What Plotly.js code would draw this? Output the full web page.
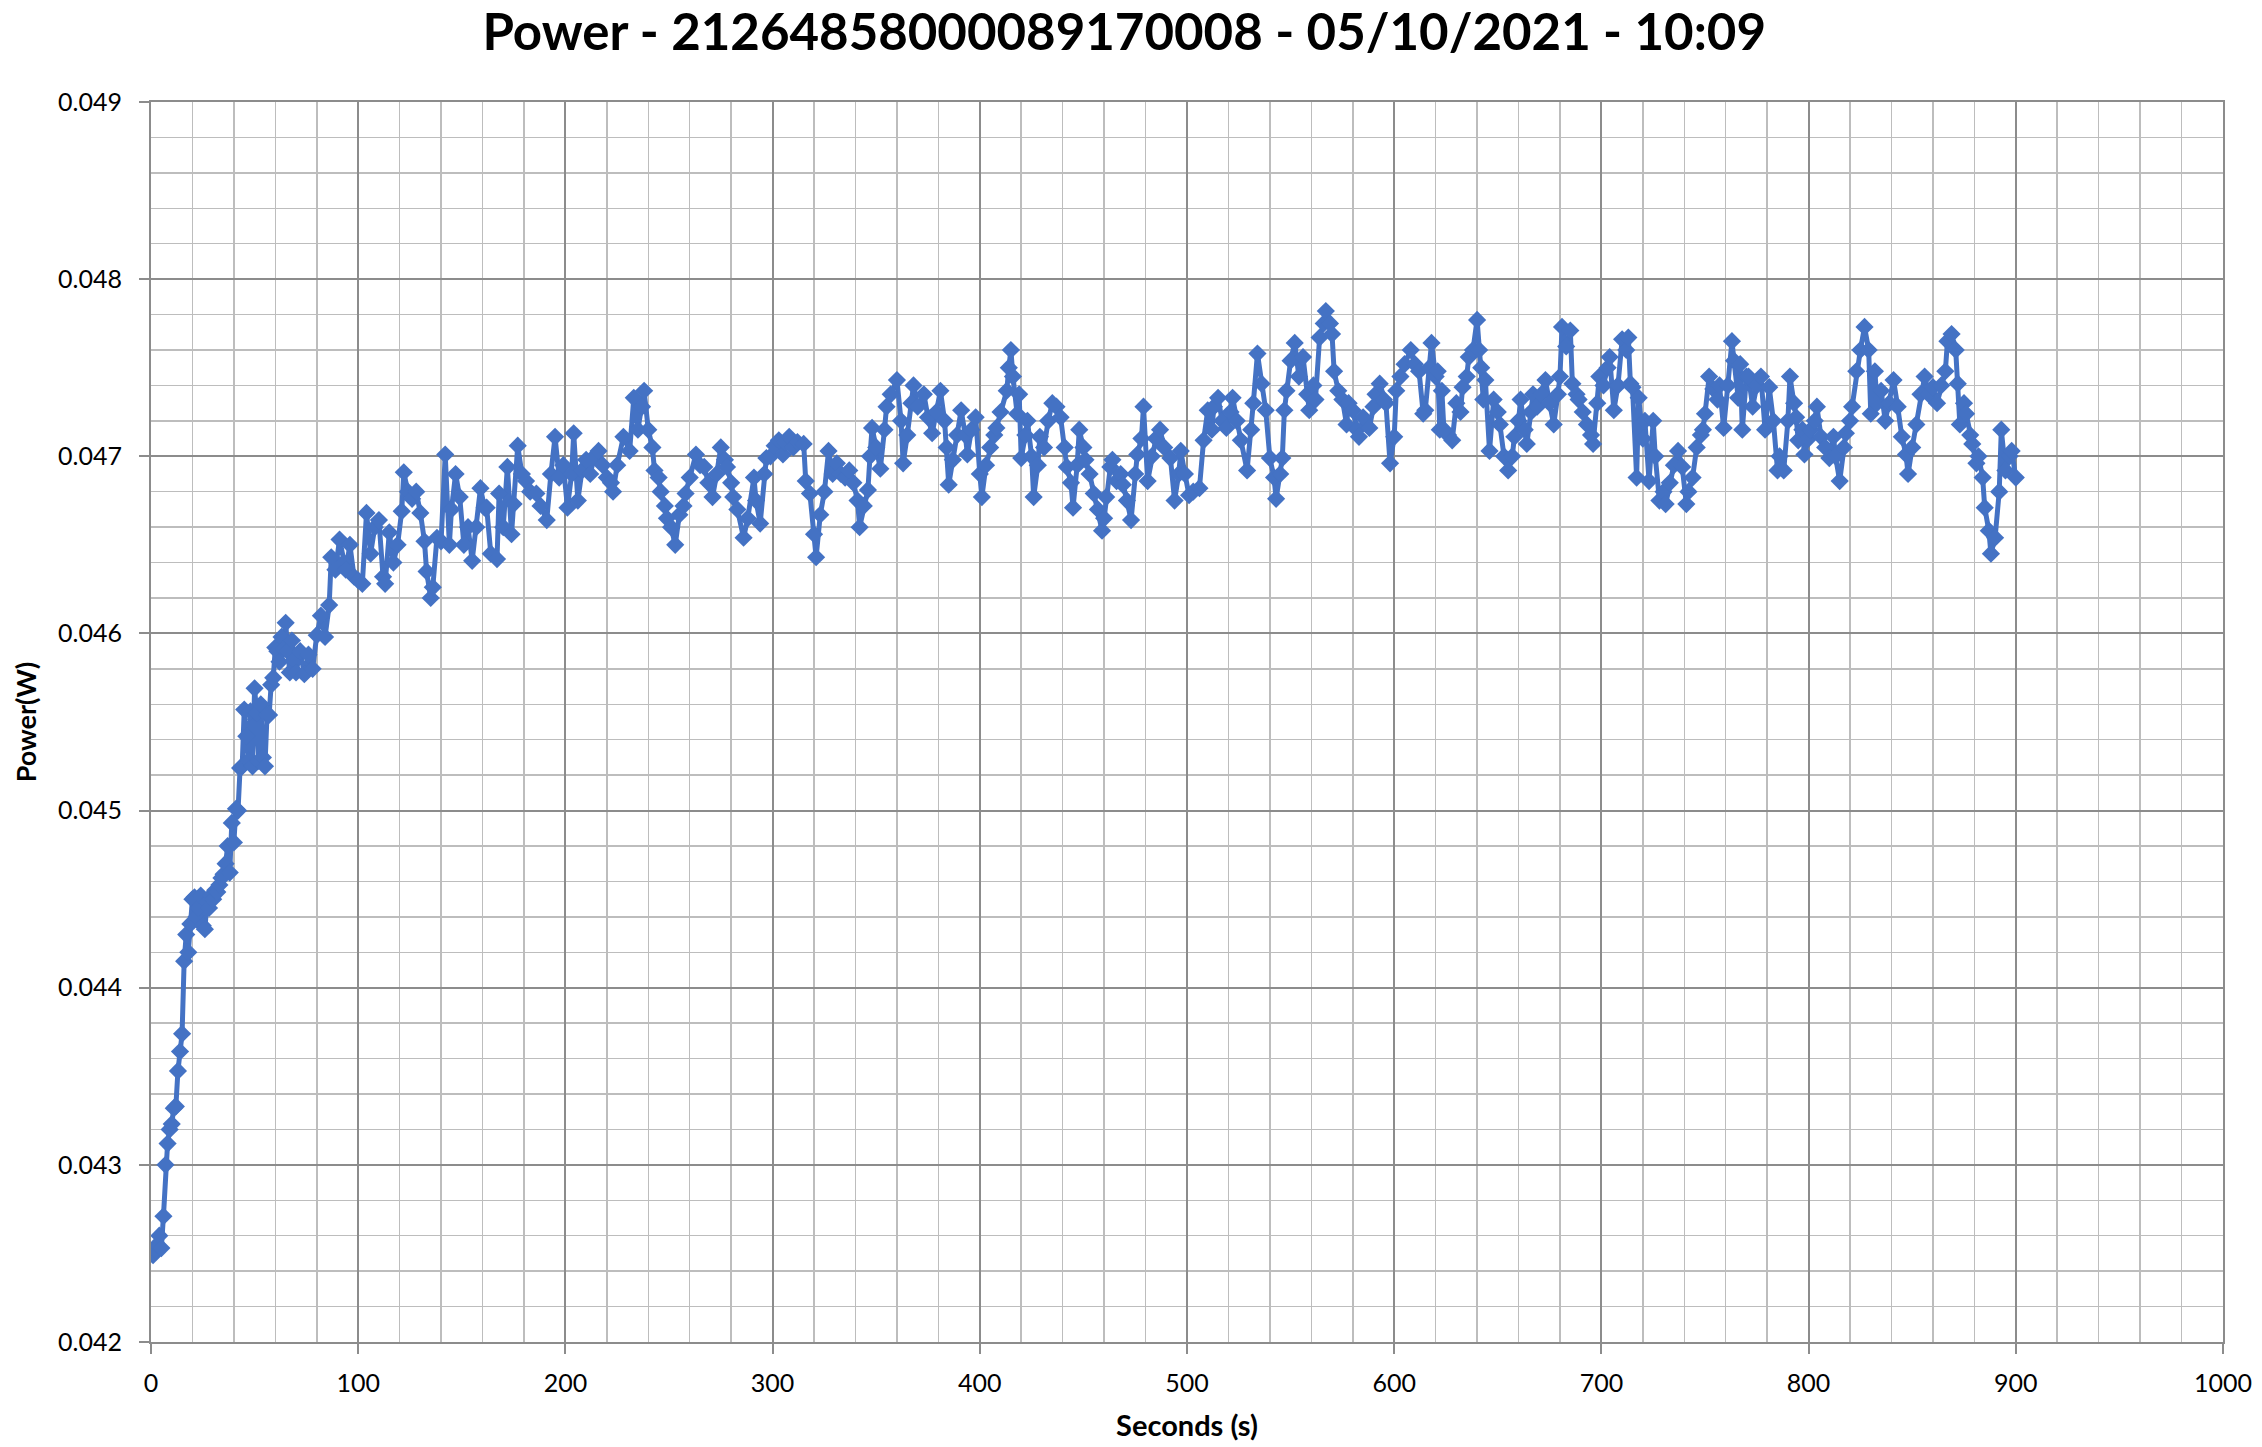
<!DOCTYPE html>
<html>
<head>
<meta charset="utf-8">
<script src="https://cdn.plot.ly/plotly-3.0.1.min.js"></script>
<style>
  html, body { margin: 0; padding: 0; background: #ffffff; }
  #chart { width: 2262px; height: 1447px; }
</style>
</head>
<body>
<div id="chart"></div>
<script>
// Seconds (s)
const seconds = [
  1,2,3,4,5,6,7,8,9,10,11,12,13,14,15,16,17,18,19,20,
  21,22,23,24,25,26,27,28,29,30,31,32,33,34,35,36,37,38,39,40,
  41,42,43,44,45,46,47,48,49,50,51,52,53,54,55,56,57,58,59,60,
  61,62,63,64,65,66,67,68,69,70,72,74,76,78,80,82,84,86,87,89,
  91,93,94,96,98,100,102,104,106,108,110,112,113,115,117,119,121,122,124,126,
  128,130,132,133,135,136,138,140,142,144,145,147,149,151,153,155,157,159,161,162,
  164,167,168,170,172,174,175,177,179,181,183,186,188,191,193,195,197,199,201,203,
  204,206,208,210,212,214,216,218,220,222,223,225,228,231,233,235,237,238,240,242,
  243,245,246,248,249,251,253,255,257,258,260,263,265,267,269,271,273,275,277,278,
  280,281,283,286,288,291,292,294,296,297,299,301,303,305,306,308,310,312,315,316,
  318,320,321,323,325,327,329,331,333,335,337,339,341,342,344,346,347,348,350,352,
  354,355,357,360,362,363,365,367,368,370,373,375,377,379,381,383,384,385,387,389,
  391,393,394,396,398,400,401,403,405,407,408,410,413,414,415,416,418,419,420,422,
  423,425,426,428,429,431,433,435,437,439,441,442,444,445,447,448,450,451,453,455,
  457,459,460,461,463,464,466,468,469,471,473,475,476,478,479,481,483,485,487,489,
  492,494,496,497,499,501,503,506,508,510,512,513,515,517,519,521,522,524,526,529,
  531,532,534,536,538,540,542,543,545,546,547,548,550,552,554,556,558,559,561,562,
  564,566,567,569,570,571,573,575,577,578,580,582,583,585,588,590,591,593,595,596,
  598,600,601,603,605,608,610,612,614,615,617,618,620,621,622,623,624,626,628,630,
  632,633,635,636,638,640,641,642,643,644,646,648,650,651,653,655,657,658,660,661,
  663,664,666,667,669,671,673,675,677,679,680,681,683,685,686,688,689,691,693,695,
  696,698,699,701,703,704,706,708,710,712,713,714,715,717,718,720,721,723,725,726,
  728,730,731,733,735,737,739,741,742,744,746,748,749,750,752,754,756,757,759,761,
  763,764,766,767,768,770,771,773,775,777,779,781,783,785,786,788,790,791,793,794,
  795,797,798,800,801,803,804,806,808,810,812,813,815,817,818,820,821,823,825,827,
  829,830,832,833,835,837,839,841,843,845,847,848,850,852,854,856,858,860,862,864,
  866,867,869,871,872,873,875,876,878,879,881,882,884,885,887,888,890,892,893,895,
  897,898,900
];

// Power (W)
const powerW = [
  0.04249,0.04252,0.04255,0.04260,0.04253,0.04271,0.04300,0.04312,0.04320,0.04323,
  0.04332,0.04333,0.04353,0.04364,0.04374,0.04415,0.04430,0.04420,0.04436,0.04450,
  0.04451,0.04440,0.04445,0.04452,0.04435,0.04433,0.04448,0.04445,0.04452,0.04450,
  0.04455,0.04454,0.04458,0.04462,0.04464,0.04470,0.04480,0.04465,0.04493,0.04482,
  0.04501,0.04500,0.04524,0.04525,0.04557,0.04542,0.04528,0.04556,0.04525,0.04569,
  0.04555,0.04528,0.04560,0.04530,0.04525,0.04554,0.04554,0.04571,0.04575,0.04592,
  0.04590,0.04584,0.04598,0.04591,0.04606,0.04590,0.04578,0.04596,0.04585,0.04578,
  0.04590,0.04577,0.04588,0.04580,0.04599,0.04610,0.04598,0.04616,0.04643,0.04636,
  0.04653,0.04640,0.04636,0.04650,0.04632,0.04630,0.04628,0.04668,0.04645,0.04660,
  0.04664,0.04632,0.04628,0.04657,0.04640,0.04650,0.04669,0.04691,0.04680,0.04676,
  0.04680,0.04668,0.04652,0.04635,0.04620,0.04626,0.04654,0.04652,0.04701,0.04650,
  0.04670,0.04690,0.04677,0.04650,0.04660,0.04641,0.04660,0.04682,0.04671,0.04671,
  0.04645,0.04642,0.04679,0.04660,0.04694,0.04656,0.04673,0.04706,0.04690,0.04686,
  0.04680,0.04679,0.04672,0.04664,0.04690,0.04711,0.04688,0.04695,0.04671,0.04690,
  0.04713,0.04675,0.04692,0.04698,0.04690,0.04700,0.04703,0.04695,0.04688,0.04685,
  0.04680,0.04695,0.04711,0.04703,0.04733,0.04715,0.04728,0.04737,0.04715,0.04705,
  0.04692,0.04688,0.04680,0.04672,0.04665,0.04660,0.04650,0.04667,0.04672,0.04679,
  0.04688,0.04701,0.04695,0.04694,0.04685,0.04677,0.04690,0.04705,0.04698,0.04694,
  0.04685,0.04677,0.04670,0.04654,0.04665,0.04688,0.04675,0.04662,0.04690,0.04699,
  0.04700,0.04706,0.04709,0.04701,0.04708,0.04711,0.04705,0.04708,0.04707,0.04686,
  0.04679,0.04656,0.04643,0.04667,0.04680,0.04703,0.04690,0.04696,0.04690,0.04688,
  0.04692,0.04685,0.04675,0.04660,0.04672,0.04681,0.04700,0.04716,0.04705,0.04693,
  0.04715,0.04728,0.04735,0.04743,0.04720,0.04696,0.04712,0.04730,0.04740,0.04728,
  0.04735,0.04722,0.04713,0.04725,0.04737,0.04720,0.04705,0.04684,0.04698,0.04712,
  0.04726,0.04712,0.04701,0.04715,0.04722,0.04690,0.04677,0.04695,0.04705,0.04712,
  0.04716,0.04725,0.04737,0.04750,0.04760,0.04745,0.04724,0.04735,0.04699,0.04712,
  0.04720,0.04700,0.04677,0.04695,0.04711,0.04705,0.04720,0.04730,0.04728,0.04722,
  0.04705,0.04694,0.04685,0.04671,0.04695,0.04715,0.04705,0.04698,0.04690,0.04679,
  0.04670,0.04658,0.04665,0.04677,0.04694,0.04698,0.04686,0.04690,0.04684,0.04675,
  0.04664,0.04690,0.04701,0.04710,0.04728,0.04686,0.04700,0.04710,0.04715,0.04705,
  0.04699,0.04675,0.04690,0.04703,0.04690,0.04678,0.04680,0.04682,0.04709,0.04726,
  0.04715,0.04728,0.04733,0.04720,0.04716,0.04725,0.04733,0.04720,0.04709,0.04692,
  0.04715,0.04730,0.04758,0.04741,0.04726,0.04699,0.04688,0.04676,0.04690,0.04699,
  0.04726,0.04737,0.04754,0.04764,0.04745,0.04756,0.04735,0.04726,0.04740,0.04732,
  0.04767,0.04775,0.04782,0.04775,0.04769,0.04748,0.04737,0.04732,0.04718,0.04730,
  0.04726,0.04715,0.04711,0.04722,0.04716,0.04728,0.04735,0.04741,0.04732,0.04730,
  0.04696,0.04711,0.04737,0.04745,0.04752,0.04760,0.04752,0.04748,0.04724,0.04726,
  0.04750,0.04764,0.04745,0.04748,0.04715,0.04737,0.04715,0.04712,0.04709,0.04730,
  0.04725,0.04739,0.04745,0.04756,0.04760,0.04777,0.04760,0.04750,0.04732,0.04743,
  0.04703,0.04732,0.04725,0.04718,0.04700,0.04692,0.04700,0.04711,0.04720,0.04732,
  0.04715,0.04707,0.04725,0.04735,0.04728,0.04735,0.04743,0.04730,0.04718,0.04735,
  0.04745,0.04773,0.04762,0.04771,0.04741,0.04735,0.04732,0.04725,0.04718,0.04712,
  0.04707,0.04730,0.04745,0.04740,0.04750,0.04756,0.04726,0.04740,0.04766,0.04760,
  0.04767,0.04741,0.04739,0.04688,0.04733,0.04710,0.04720,0.04686,0.04720,0.04700,
  0.04675,0.04680,0.04673,0.04685,0.04695,0.04703,0.04694,0.04673,0.04680,0.04688,
  0.04705,0.04712,0.04715,0.04724,0.04745,0.04738,0.04732,0.04740,0.04716,0.04740,
  0.04765,0.04754,0.04733,0.04752,0.04715,0.04745,0.04745,0.04728,0.04740,0.04745,
  0.04715,0.04739,0.04720,0.04692,0.04700,0.04692,0.04720,0.04745,0.04730,0.04722,
  0.04709,0.04715,0.04701,0.04710,0.04715,0.04720,0.04728,0.04711,0.04705,0.04699,
  0.04711,0.04700,0.04686,0.04705,0.04713,0.04720,0.04728,0.04748,0.04760,0.04773,
  0.04760,0.04724,0.04748,0.04730,0.04737,0.04720,0.04730,0.04743,0.04728,0.04711,
  0.04701,0.04690,0.04705,0.04718,0.04735,0.04745,0.04735,0.04739,0.04730,0.04740,
  0.04748,0.04765,0.04769,0.04760,0.04741,0.04718,0.04730,0.04724,0.04712,0.04707,
  0.04696,0.04700,0.04688,0.04671,0.04658,0.04645,0.04654,0.04680,0.04715,0.04692,
  0.04700,0.04703,0.04688
];

const titleText = 'Power - 21264858000089170008 - 05/10/2021 - 10:09';
const xTitle = 'Seconds (s)';
const yTitle = 'Power(W)';

const lineColor = '#4472C4';
const majorGrid = '#8c8c8c';
const minorGrid = '#bdbdbd';
const fontFam = 'Lato, "Noto Sans", "Liberation Sans", sans-serif';

const trace = {
  x: seconds,
  y: powerW,
  type: 'scatter',
  mode: 'lines+markers',
  line: { color: lineColor, width: 5 },
  marker: { symbol: 'diamond', size: 14, color: lineColor, line: { width: 0 } },
  hoverinfo: 'x+y'
};

const layout = {
  width: 2262,
  height: 1447,
  paper_bgcolor: '#ffffff',
  plot_bgcolor: '#ffffff',
  showlegend: false,
  margin: { l: 151, r: 39, t: 102, b: 105, pad: 0 },
  font: { family: fontFam, color: '#000000', size: 25 },
  title: {
    text: titleText,
    font: { family: fontFam, size: 51, color: '#000000', weight: 'bold' },
    x: 0.497, xref: 'container', xanchor: 'center',
    y: 0.978, yref: 'container', yanchor: 'middle'
  },
  xaxis: {
    range: [0, 1000],
    dtick: 100,
    tick0: 0,
    showgrid: true,
    gridcolor: majorGrid,
    gridwidth: 2,
    minor: { dtick: 20, showgrid: true, gridcolor: minorGrid, gridwidth: 1.5, ticks: '' },
    showline: true,
    linecolor: majorGrid,
    linewidth: 2,
    mirror: true,
    ticks: 'outside',
    ticklen: 10,
    tickwidth: 2,
    tickcolor: majorGrid,
    tickfont: { family: fontFam, size: 25, color: '#000000' },
    ticklabelstandoff: 8,
    zeroline: false,
    automargin: false,
    title: {
      text: xTitle,
      font: { family: fontFam, size: 29, color: '#000000', weight: 'bold' },
      standoff: 20
    }
  },
  yaxis: {
    range: [0.042, 0.049],
    dtick: 0.001,
    tick0: 0.042,
    tickformat: '.3f',
    showgrid: true,
    gridcolor: majorGrid,
    gridwidth: 2,
    minor: { dtick: 0.0002, showgrid: true, gridcolor: minorGrid, gridwidth: 1.5, ticks: '' },
    showline: true,
    linecolor: majorGrid,
    linewidth: 2,
    mirror: true,
    ticks: 'outside',
    ticklen: 10,
    tickwidth: 2,
    tickcolor: majorGrid,
    tickfont: { family: fontFam, size: 25, color: '#000000' },
    ticklabelstandoff: 12,
    zeroline: false,
    automargin: false,
    title: {
      text: yTitle,
      font: { family: fontFam, size: 27, color: '#000000', weight: 'bold' },
      standoff: 14
    }
  }
};

Plotly.newPlot('chart', [trace], layout, { displayModeBar: false, staticPlot: true });
</script>
</body>
</html>
